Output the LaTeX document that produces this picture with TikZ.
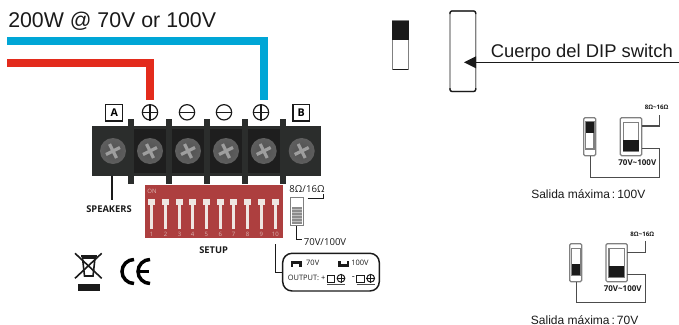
\documentclass[tikz,border=0pt]{standalone}
\usepackage{fontspec}
\setmainfont{Liberation Sans}
\newfontfamily\labelfont{Open Sans}
\definecolor{wireblue}{HTML}{00A6D6}
\definecolor{wirered}{HTML}{E32B1C}
\definecolor{blockdark}{HTML}{2B2D2C}
\definecolor{blockinner}{HTML}{1E1E1E}
\definecolor{panelred}{HTML}{AD3F3F}
\definecolor{knob}{HTML}{EFE6E2}
\definecolor{inkdark}{HTML}{1A1A1A}
\pgfdeclareradialshading{screwshade}{\pgfpoint{0bp}{0bp}}{color(0bp)=(black!68); color(30bp)=(black!62); color(43bp)=(black!45); color(50bp)=(black!8); color(100bp)=(black!8)}
\tikzset{
    wire/.style={line width=5.4pt},
    thinline/.style={draw=inkdark,line width=0.9pt},
    greyline/.style={draw=black!50,line width=0.9pt},
    caption/.style={font=\fontsize{9}{9}\selectfont,text=inkdark,anchor=base west,inner sep=0pt},
    smalltext/.style={font=\labelfont\fontsize{7.2}{7.2}\selectfont,text=inkdark,inner sep=0pt},
    tinybold/.style={font=\labelfont\bfseries\fontsize{4.6}{4.6}\selectfont,text=inkdark,inner sep=0pt},
    boldtext/.style={font=\labelfont\bfseries\fontsize{7}{7}\selectfont,text=inkdark,inner sep=0pt},
    letterbox/.style={draw=inkdark,line width=0.9pt,fill=white,font=\labelfont\bfseries\fontsize{8}{8}\selectfont,minimum width=12.5pt,minimum height=12.5pt,inner sep=0pt}
}
\begin{document}
\begin{tikzpicture}[x=0.75pt,y=-0.75pt]
    \useasboundingbox (0,0) rectangle (679,325);

    \draw (8,27) node[anchor=base west,inner sep=0pt,font=\fontsize{16}{16}\selectfont,text=inkdark] (title) {200W @ 70V or 100V};
    \coordinate (bluestart) at (7,41);
    \coordinate (blueend) at (264,100);
    \coordinate (redstart) at (7,63);
    \coordinate (redend) at (150,100);
    \draw[wire,wireblue] (bluestart) -| (blueend);
    \draw[wire,wirered] (redstart) -| (redend);

    \fill[blockdark] (92,126) rectangle (320.5,176);
    \foreach \xa/\xb in {134/166,172/204,210/242,248/280} {
        \fill[blockinner] (\xa,129) rectangle (\xb,173);
    }
    \foreach \xa in {128.3,166.3,204,241.7,280} {
        \fill[blockdark] (\xa,119) rectangle (\xa+6,184);
    }
    \foreach \xa in {113,150,188,226,263.7,301.7} {
        \shade[shading=screwshade] (\xa,151) circle (13);
        \draw[black!38,line width=2.4pt] (\xa-7,151+3.5) -- (\xa+7,151-3.5);
        \draw[black!38,line width=2.4pt] (\xa-3.5,151-7) -- (\xa+3.5,151+7);
    }

    \draw (114.2,112.7) node[letterbox] (boxA) {A};
    \draw (301.3,112.7) node[letterbox] (boxB) {B};
    \foreach \xa/\name in {150/plusL,261/plusR} {
        \draw (\xa,112.3) node[circle,draw=inkdark,line width=0.9pt,minimum size=11.5pt,inner sep=0pt] (\name) {};
        \draw[thinline] (\name.north) -- (\name.south);
        \draw[thinline] (\name.west) -- (\name.east);
    }
    \foreach \xa/\name in {187/minusL,224/minusR} {
        \draw (\xa,112.3) node[circle,draw=inkdark,line width=0.9pt,minimum size=11.5pt,inner sep=0pt] (\name) {};
        \draw[thinline] (\name.west) -- (\name.east);
    }

    \coordinate (spkA) at (111.5,176);
    \draw (109,209) node[boldtext] (speakers) {SPEAKERS};
    \draw[line width=1.5pt,inkdark] (spkA) -- (111.5,200);

    \fill[panelred] (145,185) rectangle (282.7,237.7);
    \draw (152,191.7) node[font=\labelfont\fontsize{4.5}{4.5}\selectfont,text=knob!70!panelred,inner sep=0pt] (ontext) {ON};
    \foreach \xa [count=\n] in {151.7,165.7,179.7,192.7,206.3,220.3,233.7,247.7,261.3,275.3} {
        \fill[knob] (\xa-1.3,205) rectangle (\xa+1.3,229);
        \fill[knob] (\xa-3.6,199) rectangle (\xa+3.6,205.3);
        \draw (\xa,234) node[font=\labelfont\fontsize{4.5}{4.5}\selectfont,text=knob!70!panelred,inner sep=0pt] (num\n) {\n};
    }
    \draw (213.7,250) node[boldtext] (setup) {SETUP};

    \draw[greyline,fill=white] (290.3,197.5) rectangle (303.7,225.5);
    \fill[black!45] (292,206.7) rectangle (302,224);
    \foreach \ya in {209.5,212.5,215.5,218.5,221.5} {
        \draw[white!75!black,line width=0.7pt] (292,\ya) -- (302,\ya);
    }
    \draw (307,189) node[smalltext] (ohms) {8Ω/16Ω};
    \draw (325,241.7) node[smalltext] (volts) {70V/100V};
    \coordinate (ohmsA) at (307.7,198.3);
    \coordinate (ohmsB) at (323.3,193.5);
    \coordinate (voltsA) at (296.7,226);
    \coordinate (voltsB) at (301.7,239.3);
    \draw[thinline] (ohmsA) -| (ohmsB);
    \draw[thinline] (voltsA) |- (voltsB);

    \draw[line width=1.1pt,draw=inkdark,rounded corners=7pt] (282.7,253.3) rectangle (379.3,291);
    \coordinate (outA) at (275.7,244);
    \coordinate (outB) at (282.7,272.3);
    \draw[thinline] (outA) |- (outB);
    \fill[inkdark] (291,260.7) rectangle (301.7,263.5);
    \fill[inkdark] (291,260.7) rectangle (293.4,267);
    \fill[inkdark] (299.3,260.7) rectangle (301.7,267);
    \fill[inkdark] (338.3,264.2) rectangle (349,267);
    \fill[inkdark] (338.3,260.7) rectangle (340.7,267);
    \fill[inkdark] (346.6,260.7) rectangle (349,267);
    \draw (312.7,263.3) node[font=\labelfont\fontsize{5.6}{5.6}\selectfont,text=inkdark,inner sep=0pt] (outlow) {70V};
    \draw (360,263.3) node[font=\labelfont\fontsize{5.6}{5.6}\selectfont,text=inkdark,inner sep=0pt] (outhigh) {100V};
    \draw (325.7,278.3) node[anchor=east,font=\labelfont\fontsize{5.6}{5.6}\selectfont,text=inkdark,inner sep=0pt] (outtext) {OUTPUT: +};
    \draw (353.3,278.3) node[font=\labelfont\fontsize{7}{7}\selectfont,text=inkdark,inner sep=0pt] (outminus) {-};
    \foreach \xa/\name in {327/oplus,356.7/ominus} {
        \draw[line width=0.75pt,inkdark] (\xa,275) rectangle (\xa+7.5,282);
        \draw (\xa+14,278.3) node[circle,draw=inkdark,line width=0.75pt,minimum size=5.8pt,inner sep=0pt] (\name) {};
        \draw[line width=0.6pt,inkdark] (\name.north) -- (\name.south);
        \draw[line width=0.6pt,inkdark] (\name.west) -- (\name.east);
        \draw[line width=0.7pt,black!70] (\xa,284.7) -- (\xa+18,284.7);
    }

    \draw[line width=1.2pt,inkdark] (75,253.3) -- (101.7,278.3);
    \draw[line width=1.2pt,inkdark] (101.7,253.3) -- (75,278.3);
    \draw[line width=1.2pt,inkdark] (82.5,258) -- (95,258) -- (93,276) -- (84.5,276) -- cycle;
    \draw[line width=1.2pt,inkdark] (81,256) -- (96.5,256);
    \fill[inkdark] (77.7,284) rectangle (100,290.7);
    \draw[line width=2.6pt,black] (134,259.5) arc[start angle=270,end angle=90,radius=12];
    \draw[line width=2.6pt,black] (150,259.5) arc[start angle=270,end angle=90,radius=12];
    \draw[line width=2.2pt,black] (139,271.5) -- (149,271.5);

    \draw[greyline,fill=white] (392.5,21) rectangle (408.2,69.5);
    \draw[line width=0.9pt,inkdark] (392.5,69.5) -- (408.2,69.5);
    \fill[inkdark] (392.2,21) rectangle (408.5,40);
    \draw[greyline,rounded corners=1.5pt] (450,11) rectangle (475.7,91.5);
    \draw[line width=1pt,inkdark,rounded corners=1.5pt] (450,14) -- (450,11) -- (475.7,11) -- (475.7,14);
    \draw[line width=1pt,inkdark,rounded corners=1.5pt] (450,88) -- (450,91.5) -- (475.7,91.5) -- (475.7,88);
    \draw (490.5,57) node[caption,font=\fontsize{13.8}{13.8}\selectfont] (cuerpo) {Cuerpo del DIP switch};
    \coordinate (arrowstart) at (679,62.3);
    \coordinate (arrowbase) at (476,62.3);
    \coordinate (arrowtip) at (464,62.3);
    \draw[thinline] (arrowstart) -- (arrowbase);
    \fill[inkdark] (arrowtip) -- (476,56.3) -- (476,68.3) -- cycle;

    % upper pair
    \draw[greyline,fill=white,rounded corners=1pt] (583.7,117.7) rectangle (595.7,155.7);
    \draw[greyline,fill=white] (585.5,122) rectangle (594,149);
    \fill[inkdark] (585.5,122) rectangle (594,133.3);
    \draw[greyline,fill=white,rounded corners=1pt] (620.3,117.7) rectangle (641.7,155.7);
    \draw[greyline,fill=white] (623.3,122.3) rectangle (638.7,151);
    \fill[inkdark] (623.3,140) rectangle (638.7,151);
    \draw (656.7,107.3) node[tinybold] (ohmsone) {8Ω\textasciitilde16Ω};
    \draw (637.3,162.7) node[tinybold,font=\labelfont\bfseries\fontsize{6}{6}\selectfont] (voltsone) {70V\textasciitilde100V};
    \coordinate (oneA) at (641.7,126);
    \coordinate (oneB) at (659.3,115);
    \coordinate (oneC) at (641.7,148.3);
    \coordinate (oneD) at (590.3,155.7);
    \draw[thinline,draw=black!70] (oneA) -| (oneB);
    \draw[thinline,draw=black!70] (oneC) -- (659.3,148.3) |- (590.3,177.3) -- (oneD);
    \draw (531,198) node[caption] (salidaone) {Salida máxima\,:\,100V};

    % lower pair
    \draw[greyline,fill=white,rounded corners=1pt] (569.7,243.7) rectangle (581.7,281.7);
    \draw[greyline,fill=white] (571.5,248.3) rectangle (580.3,275);
    \fill[inkdark] (571.5,264.3) rectangle (580.3,275);
    \draw[greyline,fill=white,rounded corners=1pt] (606,243.7) rectangle (627.3,281.7);
    \draw[greyline,fill=white] (609,248.3) rectangle (624.3,277);
    \fill[inkdark] (609,266) rectangle (624.3,277);
    \draw (642.3,234) node[tinybold] (ohmstwo) {8Ω\textasciitilde16Ω};
    \draw (622.7,288.3) node[tinybold,font=\labelfont\bfseries\fontsize{6}{6}\selectfont] (voltstwo) {70V\textasciitilde100V};
    \coordinate (twoA) at (627.3,252.3);
    \coordinate (twoB) at (645.3,241);
    \coordinate (twoC) at (627.3,274.3);
    \coordinate (twoD) at (576.3,281.7);
    \draw[thinline,draw=black!70] (twoA) -| (twoB);
    \draw[thinline,draw=black!70] (twoC) -- (645.3,274.3) |- (576.3,302.7) -- (twoD);
    \draw (530.7,324) node[caption] (salidatwo) {Salida máxima\,:\,70V};
\end{tikzpicture}
\end{document}
